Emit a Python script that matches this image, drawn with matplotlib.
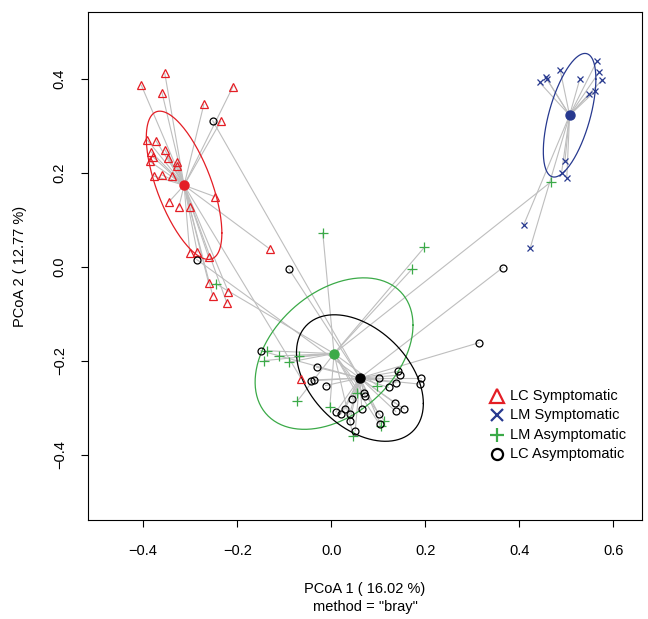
import numpy as np
import matplotlib
matplotlib.use("Agg")
import matplotlib.pyplot as plt
from matplotlib.lines import Line2D

plt.rcParams['font.family'] = ['Liberation Sans', 'DejaVu Sans']

# PCoA scores (axis 1, axis 2)
lc_sym_x = [-0.404, -0.354, -0.360, -0.209, -0.271, -0.235, -0.391, -0.373, -0.354, -0.383,
            -0.380, -0.386, -0.347, -0.328, -0.328, -0.378, -0.360, -0.338, -0.345, -0.324,
            -0.301, -0.248, -0.130, -0.301, -0.285, -0.261, -0.261, -0.219, -0.252, -0.222,
            -0.064]
lc_sym_y = [0.386, 0.411, 0.370, 0.383, 0.345, 0.309, 0.269, 0.268, 0.249, 0.244,
            0.234, 0.224, 0.232, 0.223, 0.214, 0.193, 0.195, 0.193, 0.138, 0.127,
            0.127, 0.149, 0.037, 0.030, 0.031, 0.021, -0.034, -0.053, -0.062, -0.077,
            -0.238]

lm_sym_x = [0.565, 0.570, 0.576, 0.561, 0.548, 0.529, 0.487, 0.456, 0.458, 0.443,
            0.497, 0.490, 0.501, 0.409, 0.423]
lm_sym_y = [0.437, 0.414, 0.397, 0.373, 0.367, 0.400, 0.418, 0.403, 0.400, 0.392,
            0.224, 0.200, 0.188, 0.088, 0.039]

lm_asym_x = [-0.018, 0.198, 0.172, -0.246, 0.467, -0.136, -0.111, -0.142, -0.089, -0.068,
             -0.072, 0.098, 0.054, -0.003, 0.113, 0.105, 0.047]
lm_asym_y = [0.072, 0.041, -0.005, -0.036, 0.180, -0.179, -0.190, -0.200, -0.203, -0.191,
             -0.286, -0.253, -0.269, -0.298, -0.328, -0.339, -0.361]

lc_asym_x = [-0.252, -0.286, -0.090, 0.365, 0.314, -0.150, -0.031, -0.042, -0.036, -0.012,
             0.101, 0.141, 0.146, 0.137, 0.122, 0.191, 0.189, 0.070, 0.072, 0.044,
             0.065, 0.010, 0.020, 0.029, 0.039, 0.039, 0.135, 0.137, 0.155, 0.101,
             0.104, 0.051]
lc_asym_y = [0.310, 0.015, -0.005, -0.002, -0.162, -0.179, -0.214, -0.243, -0.241, -0.253,
             -0.237, -0.223, -0.231, -0.247, -0.257, -0.237, -0.250, -0.269, -0.276, -0.282,
             -0.303, -0.309, -0.314, -0.303, -0.314, -0.329, -0.290, -0.308, -0.303, -0.314,
             -0.334, -0.349]

# group centroids (spatial medians)
cent_lc_sym = (-0.313, 0.173)
cent_lm_sym = (0.507, 0.322)
cent_lm_asym = (0.006, -0.185)
cent_lc_asym = (0.061, -0.237)

group_names = ["LC Symptomatic", "LM Symptomatic", "LM Asymptomatic", "LC Asymptomatic"]

groups = [
    (lc_sym_x, lc_sym_y, cent_lc_sym, "#E41E25", "^", 6.0),
    (lm_sym_x, lm_sym_y, cent_lm_sym, "#27398F", "x", 5.0),
    (lm_asym_x, lm_asym_y, cent_lm_asym, "#3BAA48", "+", 7.0),
    (lc_asym_x, lc_asym_y, cent_lc_asym, "#000000", "o", 5.0),
]


def sd_ellipse(x, y, cx, cy, n=200):
    # 1-SD data ellipse, covariance taken about the centroid
    d = np.column_stack([np.asarray(x) - cx, np.asarray(y) - cy])
    cov = d.T @ d / (len(x) - 1)
    L = np.linalg.cholesky(cov)
    t = np.linspace(0, 2 * np.pi, n)
    e = L @ np.vstack([np.cos(t), np.sin(t)])
    return cx + e[0], cy + e[1]


fig = plt.figure(figsize=(6.48, 6.19), dpi=100)
ax = fig.add_axes([87.7 / 648, 1 - 520 / 619, (642 - 87.7) / 648, (520 - 12.3) / 619])

for x, y, (cx, cy), col, mk, ms in groups:
    ex, ey = sd_ellipse(x, y, cx, cy)
    ax.plot(ex, ey, color=col, lw=0.9, zorder=2)

for x, y, (cx, cy), col, mk, ms in groups:
    for xi, yi in zip(x, y):
        ax.plot([cx, xi], [cy, yi], color="#BEBEBE", lw=0.8, zorder=1)

for x, y, (cx, cy), col, mk, ms in groups:
    ax.plot(x, y, linestyle="none", marker=mk, ms=ms, mfc="none", mec=col, mew=0.9, zorder=3)

for x, y, (cx, cy), col, mk, ms in groups:
    ax.plot(cx, cy, linestyle="none", marker="o", ms=6.5, mfc=col, mec=col, zorder=4)

ax.set_xlim(-0.518, 0.661)
ax.set_ylim(-0.539, 0.541)
ax.set_xticks([-0.4, -0.2, 0.0, 0.2, 0.4, 0.6])
ax.set_xticklabels(["\u22120.4", "\u22120.2", "0.0", "0.2", "0.4", "0.6"])
ax.set_yticks([-0.4, -0.2, 0.0, 0.2, 0.4])
ax.set_yticklabels(["\u22120.4", "\u22120.2", "0.0", "0.2", "0.4"], rotation=90, va="center")
ax.tick_params(axis="both", length=5, width=0.8, labelsize=10.5)
ax.tick_params(axis="x", pad=12)
ax.tick_params(axis="y", pad=10)
for s in ax.spines.values():
    s.set_linewidth(0.8)

fig.text(365 / 648, 1 - 589 / 619, "PCoA 1 ( 16.02 %)", ha="center", va="center", fontsize=10.5)
fig.text(365 / 648, 1 - 607 / 619, 'method = "bray"', ha="center", va="center", fontsize=10.5)
fig.text(20 / 648, 1 - 266 / 619, "PCoA 2 ( 12.77 %)", ha="center", va="center",
         rotation=90, fontsize=10.5)

# legend
leg_y = [396, 415, 435, 454]
leg_ms = [10, 8, 10, 8]
for (x, y, c, col, mk, ms), name, ly, lms in zip(groups, group_names, leg_y, leg_ms):
    fig.add_artist(Line2D([497 / 648], [1 - ly / 619], transform=fig.transFigure,
                          linestyle="none", marker=mk, ms=lms, mfc="none", mec=col, mew=1.6))
    fig.text(510 / 648, 1 - ly / 619, name, ha="left", va="center", fontsize=10.5)

fig.savefig("out.png", dpi=100)
